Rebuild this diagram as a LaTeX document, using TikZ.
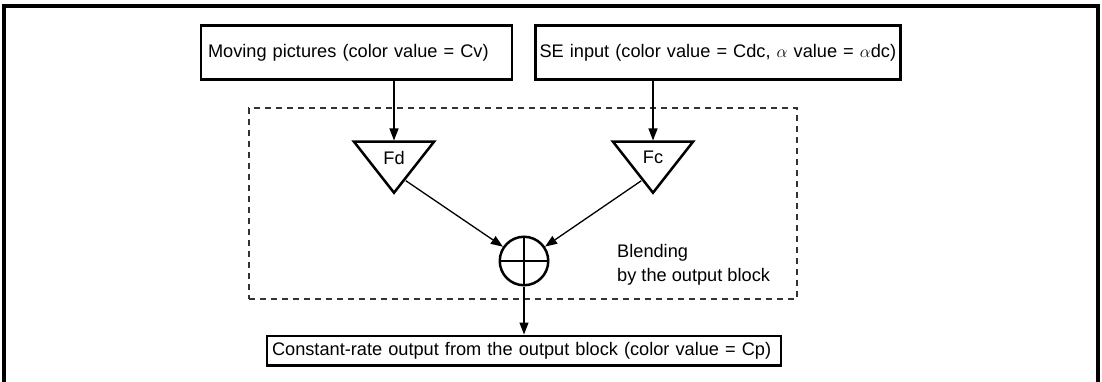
\documentclass[tikz,border=0pt]{standalone}
\usepackage{fontspec}
\setmainfont{Liberation Sans}
\usetikzlibrary{shapes.geometric, arrows.meta, positioning}

\begin{document}
\begin{tikzpicture}[
  x=1pt, y=-1pt,
  font=\fontsize{18.2}{24}\selectfont,
  b/.style={rectangle, draw, line width=2.5pt, inner ysep=2pt, align=left},
  t/.style={isosceles triangle, isosceles triangle stretches, shape border rotate=-90,
            draw, line width=2.5pt, minimum width=80pt, minimum height=51pt, inner sep=0pt},
  sm/.style={circle, draw, line width=2.5pt, minimum size=48.5pt, inner sep=0pt,
             path picture={\draw[line width=2.5pt]
               (path picture bounding box.north) -- (path picture bounding box.south)
               (path picture bounding box.west) -- (path picture bounding box.east);}},
  dbox/.style={rectangle, draw, black!80, line width=1.2pt, dash pattern=on 6pt off 5pt},
  a/.style={-{Triangle[length=12pt, width=9pt]}, line width=1.3pt},
  node distance=21pt and 21pt,
]
  \useasboundingbox (0,0) rectangle (1102,382);
  \draw[line width=3.2pt] (4,6) rectangle (1098,388);

  \node[b, inner xsep=7pt, text width=297pt, minimum height=54pt] (movpic) at (356.5,52.5)
    {\mbox{Moving pictures (color value = Cv)}};
  \node[b, inner xsep=4pt, text width=357pt, minimum height=54pt, right=of movpic] (seinput)
    {\mbox{SE input (color value = Cdc, $\alpha$ value = $\alpha$dc)}};

  \node[dbox, minimum width=548pt, minimum height=191pt] (blend) at (523,203.5) {};

  \node[t, anchor=apex] (fd) at (394,196) {Fd};
  \node[t, anchor=apex] (fc) at (653,196) {Fc};
  \node[sm] (sum) at (524,261) {};
  \node[anchor=north west, inner sep=0pt, align=left] (blendlbl) at (617,244.5)
    {Blending\\by the output block};

  \node[b, inner xsep=5pt, text width=504pt, minimum height=29.5pt, below=48pt of sum] (out)
    {\mbox{Constant-rate output from the output block (color value = Cp)}};

  \draw[a] (movpic.south -| fd.apex) -- (fd.lower side);
  \draw[a] (seinput.south -| fc.apex) -- (fc.lower side);
  \draw[a] (fd.-63) -- (sum);
  \draw[a] (fc.-117) -- (sum);
  \draw[a] (sum) -- (out);
\end{tikzpicture}
\end{document}
